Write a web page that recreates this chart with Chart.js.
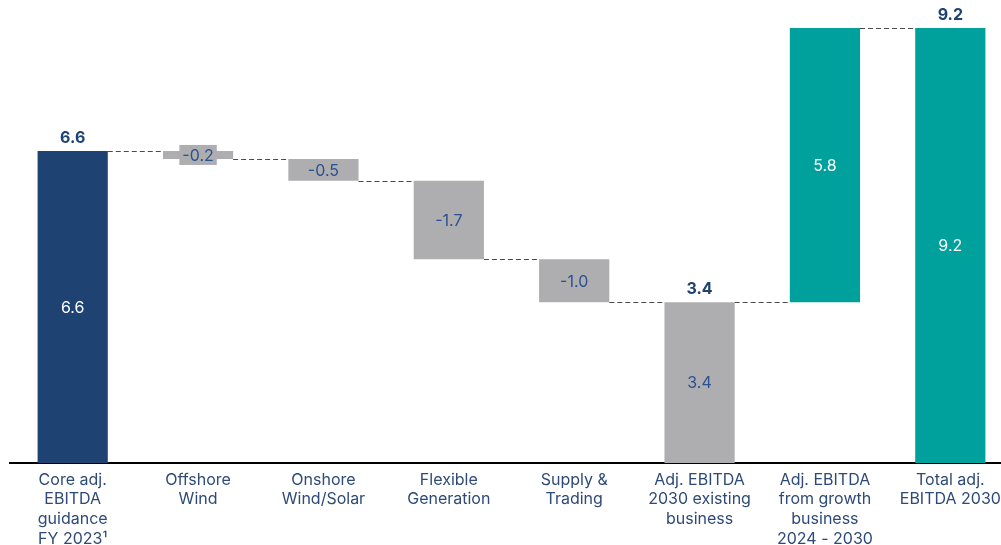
<!DOCTYPE html>
<html lang="en">
<head>
  <meta charset="UTF-8">
  <title>Adj. EBITDA bridge 2023 - 2030</title>
  <script src="https://cdn.jsdelivr.net/npm/chart.js"></script>
  <style>
    html, body { margin: 0; padding: 0; background: #fff; overflow: hidden; }
    #wrap { width: 1001px; height: 545px; overflow: hidden; }
    canvas { display: block; }
  </style>
</head>
<body>
  <div id="wrap"><canvas id="bridge" width="1013" height="545"></canvas></div>

  <script>
    const categories = [
      ['Core adj.', 'EBITDA', 'guidance', 'FY 2023\u00b9'],
      ['Offshore', 'Wind'],
      ['Onshore', 'Wind/Solar'],
      ['Flexible', 'Generation'],
      ['Supply &', 'Trading'],
      ['Adj. EBITDA', '2030 existing', 'business'],
      ['Adj. EBITDA', 'from growth', 'business', '2024 - 2030'],
      ['Total adj.', 'EBITDA 2030']
    ];
    // floating bar ranges [bottom, top] in EUR bn
    const barLows  = [0,   6.43, 5.97, 4.31, 3.4,  0,   3.4, 0];
    const barHighs = [6.6, 6.6,  6.43, 5.97, 4.31, 3.4, 9.2, 9.2];
    const innerLabels = ['6.6', '-0.2', '-0.5', '-1.7', '-1.0', '3.4', '5.8', '9.2'];
    const topLabels   = ['6.6', '', '', '', '', '3.4', '', '9.2'];
    const barKinds    = ['total', 'step', 'step', 'step', 'step', 'step', 'growth', 'growth'];

    const NAVY = '#1e4373';
    const GREY = '#aeaeb0';
    const TEAL = '#00a19c';
    const kindColour = { total: NAVY, step: GREY, growth: TEAL };

    const bridgeLabels = {
      id: 'bridgeLabels',
      afterDatasetsDraw(chart) {
        const ctx = chart.ctx;
        const meta = chart.getDatasetMeta(0);
        const y = chart.scales.y;
        ctx.save();

        // dashed connectors between neighbouring bars
        ctx.strokeStyle = '#4a4a4a';
        ctx.lineWidth = 1;
        ctx.setLineDash([5, 3]);
        for (let i = 0; i < meta.data.length - 1; i++) {
          const a = meta.data[i], b = meta.data[i + 1];
          let level;
          if (barKinds[i + 1] === 'step') level = barHighs[i + 1];
          else level = barKinds[i] === 'step' ? barLows[i] : barHighs[i];
          if (i === 5) level = barHighs[5];
          const py = Math.round(y.getPixelForValue(level)) + 0.5;
          ctx.beginPath();
          ctx.moveTo(a.x + a.width / 2, py);
          ctx.lineTo(b.x - b.width / 2, py);
          ctx.stroke();
        }
        ctx.setLineDash([]);

        ctx.textAlign = 'center';
        ctx.textBaseline = 'middle';
        meta.data.forEach((bar, i) => {
          const top = y.getPixelForValue(barHighs[i]);
          const bottom = y.getPixelForValue(barLows[i]);
          const mid = (top + bottom) / 2;
          ctx.font = '16px Inter, "Noto Sans", sans-serif';
          if (barKinds[i] === 'step' && i < 5) {
            const w = ctx.measureText(innerLabels[i]).width + 6;
            ctx.fillStyle = GREY;
            ctx.fillRect(bar.x - w / 2, mid - 10, w, 20);
            ctx.fillStyle = '#2a5190';
          } else if (i === 5) {
            ctx.fillStyle = '#2a5190';
          } else {
            ctx.fillStyle = '#ffffff';
          }
          ctx.fillText(innerLabels[i], bar.x, mid + 1);

          if (topLabels[i]) {
            ctx.font = 'bold 16px Inter, "Noto Sans", sans-serif';
            ctx.fillStyle = NAVY;
            ctx.fillText(topLabels[i], bar.x, top - 13);
          }
        });
        ctx.restore();
      }
    };

    new Chart(document.getElementById('bridge'), {
      type: 'bar',
      data: {
        labels: categories,
        datasets: [{
          data: barLows.map((lo, i) => [lo, barHighs[i]]),
          backgroundColor: barKinds.map(k => kindColour[k]),
          borderWidth: 0,
          barPercentage: 0.56,
          categoryPercentage: 1
        }]
      },
      options: {
        responsive: false,
        animation: false,
        layout: { padding: { left: 10, right: 0, top: 28, bottom: 0 } },
        plugins: { legend: { display: false }, tooltip: { enabled: false } },
        scales: {
          x: {
            grid: { display: false, drawTicks: false },
            border: { display: true, color: '#000', width: 2 },
            ticks: {
              padding: 7,
              color: '#2e4a78',
              maxRotation: 0,
              autoSkip: false,
              font: { family: 'Inter, "Noto Sans", sans-serif', size: 16, lineHeight: 1.23 }
            },
            afterFit(axis) { axis.height = 82; }
          },
          y: {
            display: false,
            min: 0,
            max: 9.2
          }
        }
      },
      plugins: [bridgeLabels]
    });
  </script>
</body>
</html>
